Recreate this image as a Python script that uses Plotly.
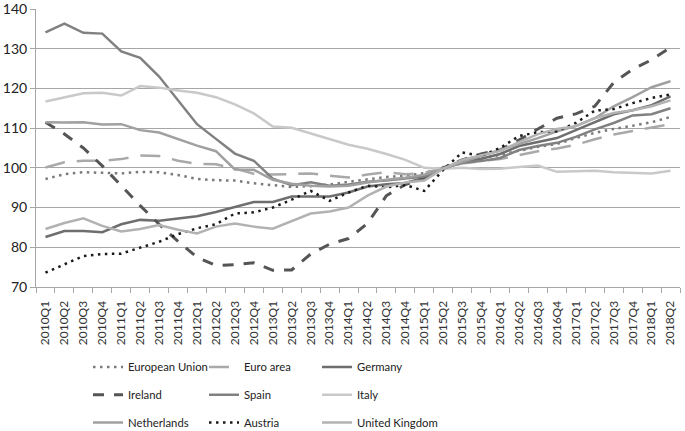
import plotly.graph_objects as go

quarters = [f"{y}Q{q}" for y in range(2010, 2019) for q in range(1, 5)][:34]

european_union = [97.2, 98.4, 98.9, 98.7, 98.6, 99.0, 98.9, 98.2, 97.2, 96.9, 96.8, 96.1,
                  95.6, 95.2, 95.4, 95.8, 96.5, 97.1, 97.7, 98.0, 98.7, 100.1, 101.5, 102.3,
                  103.3, 104.3, 105.3, 106.0, 107.5, 108.8, 109.8, 110.6, 111.5, 112.8]
euro_area = [100.1, 101.4, 101.8, 101.8, 102.2, 103.1, 103.0, 101.8, 101.0, 100.9, 99.8, 98.5,
             98.3, 98.5, 98.6, 98.0, 97.6, 98.3, 98.9, 98.4, 98.7, 100.0, 101.1, 101.7,
             102.2, 103.2, 104.2, 104.9, 105.8, 107.2, 108.4, 109.3, 110.1, 111.0]
germany = [82.6, 84.1, 84.1, 83.8, 85.8, 86.9, 86.7, 87.3, 87.8, 88.9, 90.1, 91.4,
           91.4, 92.8, 92.8, 92.8, 93.8, 95.3, 95.9, 96.2, 97.5, 99.8, 101.5, 102.3,
           103.5, 105.5, 106.5, 107.5, 109.5, 111.5, 113.5, 114.5, 115.8, 118.0]
ireland = [111.5, 108.5, 105.0, 100.5, 95.5, 90.5, 85.8, 81.5, 77.5, 75.4, 75.6, 76.1,
           74.2, 74.3, 78.3, 80.8, 82.2, 86.0, 93.0, 95.8, 97.5, 100.0, 102.0, 103.5,
           104.5, 107.0, 109.8, 112.5, 113.6, 115.5, 121.5, 124.8, 127.2, 130.3]
spain = [134.1, 136.3, 134.0, 133.8, 129.3, 127.7, 123.0, 117.0, 111.0, 107.3, 103.6, 101.8,
         97.3, 95.6, 96.4, 95.5, 95.8, 96.5, 96.8, 97.3, 97.8, 99.8, 101.3, 101.7,
         102.5, 104.5, 105.5, 106.3, 107.8, 109.7, 111.3, 113.2, 113.5, 115.0]
italy = [116.7, 117.8, 118.8, 118.9, 118.2, 120.6, 120.2, 119.5, 118.9, 117.8, 116.0, 113.7,
         110.4, 110.1, 108.6, 107.2, 105.8, 104.8, 103.5, 102.0, 100.0, 99.8, 100.0, 99.7,
         99.8, 100.2, 100.6, 99.0, 99.2, 99.3, 98.9, 98.7, 98.6, 99.3]
netherlands = [111.5, 111.4, 111.5, 110.9, 111.0, 109.5, 108.9, 107.3, 105.6, 104.2, 99.6, 99.5,
               97.0, 96.0, 95.5, 95.3, 95.5, 96.3, 97.0, 97.5, 98.3, 99.7, 101.5, 103.0,
               104.5, 106.0, 107.5, 109.2, 110.5, 112.5, 115.5, 117.8, 120.3, 121.8]
austria = [73.6, 75.8, 77.8, 78.3, 78.4, 79.9, 81.4, 83.3, 84.8, 85.8, 88.5, 88.8,
           90.0, 92.0, 94.2, 91.7, 93.8, 95.5, 95.1, 95.7, 94.2, 99.5, 103.9, 103.0,
           105.0, 108.0, 109.0, 109.2, 111.3, 114.4, 114.8, 116.3, 117.6, 118.5]
united_kingdom = [84.6, 86.1, 87.3, 85.4, 84.0, 84.6, 85.6, 84.4, 83.5, 85.2, 86.0, 85.2,
                  84.7, 86.5, 88.5, 89.0, 90.0, 93.0, 95.3, 96.3, 96.8, 99.8, 102.0, 103.2,
                  104.2, 106.5, 108.5, 109.8, 110.5, 112.5, 113.8, 114.5, 115.5, 117.0]

# name, values, colour, dash, width, legend column
series = [
    ("European Union", european_union, "#7a7a7a", "2.5px,4.5px", 2.5, "legend"),
    ("Euro area", euro_area, "#a9a9a9", "20px,12px", 2.5, "legend2"),
    ("Germany", germany, "#6e6e6e", "solid", 2.5, "legend3"),
    ("Ireland", ireland, "#555555", "11px,10px", 3, "legend"),
    ("Spain", spain, "#818181", "solid", 2.5, "legend2"),
    ("Italy", italy, "#c9c9c9", "solid", 2.5, "legend3"),
    ("Netherlands", netherlands, "#a0a0a0", "solid", 2.5, "legend"),
    ("Austria", austria, "#1a1a1a", "2.5px,4.5px", 2.5, "legend2"),
    ("United Kingdom", united_kingdom, "#b2b2b2", "solid", 2.5, "legend3"),
]

fig = go.Figure()
for name, vals, color, dash, width, leg in series:
    fig.add_trace(go.Scatter(
        x=quarters, y=vals, name=name, mode="lines", legend=leg, legendgroup=name,
        line=dict(color=color, dash=dash, width=width),
    ))

# three vertical legends side by side give the 3x3 grid of the original
legend_font = dict(family="Lato", size=11.3, color="#222222")
legend_common = dict(orientation="v", xref="paper", yref="container",
                     yanchor="top", y=0.182, xanchor="left",
                     font=legend_font, itemwidth=30, tracegroupgap=8.7,
                     traceorder="grouped", bgcolor="rgba(0,0,0,0)")

fig.update_layout(
    width=685, height=431,
    margin=dict(l=36, r=5, t=9, b=144),
    plot_bgcolor="white", paper_bgcolor="white",
    font=dict(family="Lato", color="#222222"),
    legend=dict(x=(88 - 36) / 644, **legend_common),
    legend2=dict(x=(204 - 36) / 644, **legend_common),
    legend3=dict(x=(317 - 36) / 644, **legend_common),
)
fig.update_xaxes(
    type="category", tickangle=-90, tickson="boundaries", ticks="outside", ticklen=5,
    tickcolor="#a6a6a6", showline=True, linecolor="#a6a6a6", linewidth=1,
    showgrid=False, tickfont=dict(size=12, family="Lato", color="#333333"),
    range=[-0.5, 33.5], automargin=False, ticklabelstandoff=8,
)
fig.update_yaxes(
    range=[70, 140], dtick=10, showgrid=True, gridcolor="#a6a6a6", gridwidth=1,
    showline=True, linecolor="#a6a6a6", ticks="outside", ticklen=5, tickcolor="#a6a6a6",
    tickfont=dict(size=14, family="Lato", color="#222222"), zeroline=False,
    automargin=False, ticklabeloverflow="allow",
)

# page body has a default 8px margin; drop it so the figure sits at the window origin
fig.write_html("out.html", config={"displayModeBar": False},
               post_script="document.body.style.margin = '0';")
